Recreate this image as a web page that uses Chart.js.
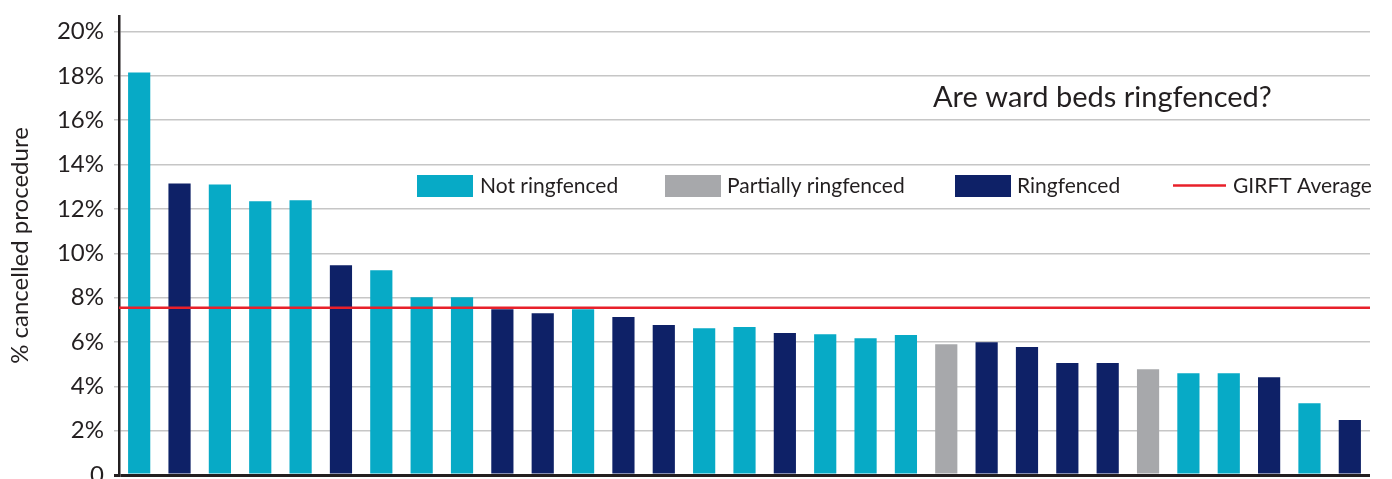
<!DOCTYPE html>
<html>
<head>
<meta charset="utf-8">
<script src="https://cdn.jsdelivr.net/npm/chart.js@4"></script>
<style>
html,body{margin:0;padding:0;background:#fff;overflow:hidden;}
canvas{display:block;}
</style>
</head>
<body>
<canvas id="c" width="1392" height="479"></canvas>
<script>
// ---- data ----
const categories = ['1','2','3','4','5','6','7','8','9','10','11','12','13','14','15','16','17','18','19','20','21','22','23','24','25','26','27','28','29','30','31'];
const cancelledPct = [18.15, 13.15, 13.1, 12.34, 12.39, 9.46, 9.23, 8.02, 8.02, 7.48, 7.3, 7.48, 7.12, 6.76, 6.62, 6.67, 6.4, 6.35, 6.17, 6.31, 5.9, 5.99, 5.77, 5.05, 5.05, 4.77, 4.59, 4.59, 4.41, 3.24, 2.48];
const ringfenceStatus = ['Not','Ring','Not','Not','Not','Ring','Not','Not','Not','Ring','Ring','Not','Ring','Ring','Not','Not','Ring','Not','Not','Not','Partial','Ring','Ring','Ring','Ring','Partial','Not','Not','Ring','Not','Ring'];
const girftAverage = 7.54;
const yTickValues = [0, 2, 4, 6, 8, 10, 12, 14, 16, 18, 20];
const legendLabels = ['Not ringfenced', 'Partially ringfenced', 'Ringfenced', 'GIRFT Average'];
const chartTitle = 'Are ward beds ringfenced?';
const yAxisTitle = '% cancelled procedure';

// ---- styles ----
const COLORS = { Not: '#07AAC6', Partial: '#A7A8AB', Ring: '#0E2167' };
const RED = '#E8202A';
const TEXT = '#231F20';
const FONT = 'Lato, "Noto Sans", sans-serif';

const overlay = {
  id: 'overlay',
  afterDraw(chart) {
    const ctx = chart.ctx;
    ctx.save();
    ctx.fillStyle = TEXT;
    ctx.textBaseline = 'middle';
    ctx.textAlign = 'left';
    ctx.font = '29px ' + FONT;
    ctx.fillText(chartTitle, 933, 98);

    const y = 186;
    ctx.font = '21px ' + FONT;
    const items = [
      { kind: 'box', color: COLORS.Not, x: 417, tx: 480, label: legendLabels[0] },
      { kind: 'box', color: COLORS.Partial, x: 665, tx: 727, label: legendLabels[1] },
      { kind: 'box', color: COLORS.Ring, x: 955, tx: 1017, label: legendLabels[2] },
      { kind: 'line', color: RED, x: 1173, tx: 1233, label: legendLabels[3] }
    ];
    items.forEach(it => {
      if (it.kind === 'box') {
        ctx.fillStyle = it.color;
        ctx.fillRect(it.x, 175, 56, 22);
      } else {
        ctx.strokeStyle = it.color;
        ctx.lineWidth = 2.5;
        ctx.beginPath();
        ctx.moveTo(it.x, y - 0.5);
        ctx.lineTo(it.x + 53, y - 0.5);
        ctx.stroke();
      }
      ctx.fillStyle = TEXT;
      ctx.fillText(it.label, it.tx, y);
    });
    ctx.restore();
  }
};

new Chart(document.getElementById('c'), {
  type: 'bar',
  data: {
    labels: categories,
    datasets: [
      {
        type: 'line',
        label: legendLabels[3],
        data: [{ x: 0, y: girftAverage }, { x: 1, y: girftAverage }],
        xAxisID: 'xLine',
        borderColor: RED,
        borderWidth: 2.5,
        pointRadius: 0,
        fill: false,
        order: 0
      },
      {
        type: 'bar',
        label: yAxisTitle,
        data: cancelledPct,
        xAxisID: 'x',
        backgroundColor: ringfenceStatus.map(s => COLORS[s]),
        barPercentage: 0.55,
        categoryPercentage: 1,
        grouped: false,
        order: 1
      }
    ]
  },
  plugins: [overlay],
  options: {
    responsive: false,
    animation: false,
    events: [],
    layout: { padding: { left: 0, top: 16, right: 22, bottom: 4 } },
    plugins: { legend: { display: false }, tooltip: { enabled: false }, title: { display: false } },
    scales: {
      x: {
        type: 'category',
        ticks: { display: false },
        grid: { display: false },
        border: { display: false },
        afterFit(s) { s.height = 0; s.paddingLeft = 0; s.paddingRight = 0; }
      },
      xLine: {
        type: 'linear',
        min: 0.0025, max: 1,
        offset: false,
        grid: { offset: false },
        display: false
      },
      y: {
        min: 0,
        max: 20.7,
        afterBuildTicks(s) { s.ticks = yTickValues.map(v => ({ value: v })); },
        afterFit(s) { s.width = 119; s.paddingTop = 0; s.paddingBottom = 0; },
        ticks: {
          color: TEXT,
          font: { family: FONT, size: 24 },
          padding: 10,
          callback: v => v === 0 ? '0' : v + '%'
        },
        grid: {
          color: c => (c.tick && c.tick.value === 0) ? TEXT : '#C6C6C6',
          lineWidth: c => (c.tick && c.tick.value === 0) ? 3 : 1.5,
          tickLength: 5
        },
        border: { display: true, color: TEXT, width: 2.5 },
        title: {
          display: true,
          text: yAxisTitle,
          color: TEXT,
          font: { family: FONT, size: 24 },
          padding: { top: 6, bottom: 0 }
        }
      }
    }
  }
});
</script>
</body>
</html>
